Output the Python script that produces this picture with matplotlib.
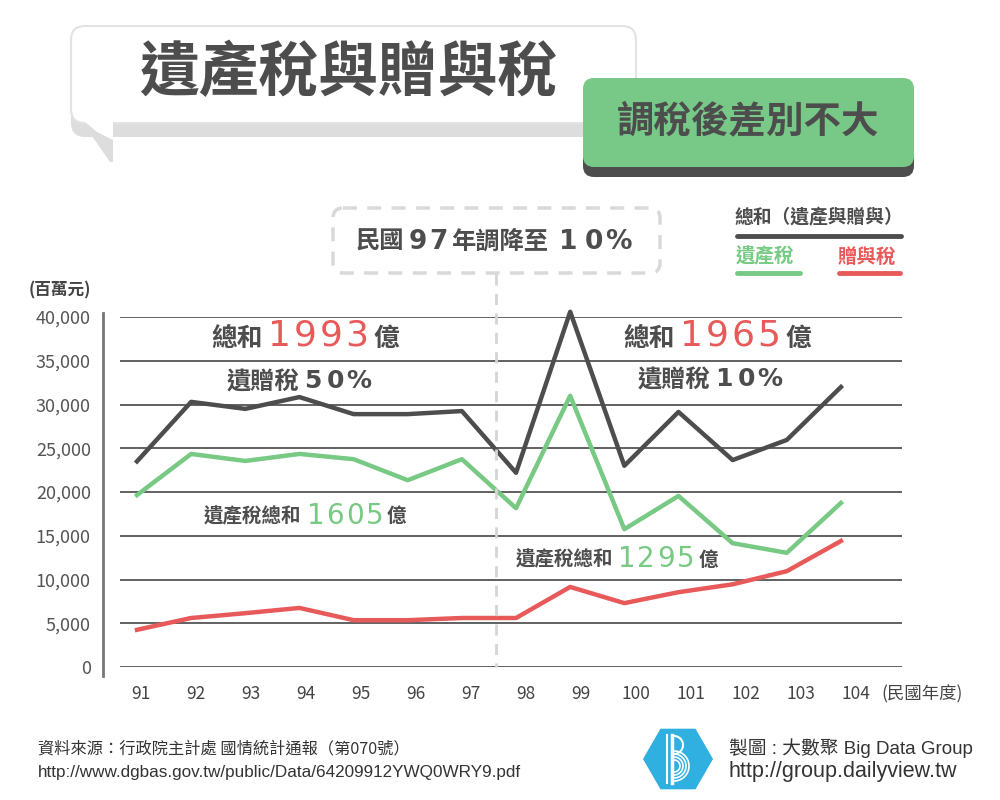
import numpy as np
import matplotlib
matplotlib.use("Agg")
import matplotlib.pyplot as plt
from matplotlib.patches import FancyBboxPatch, Polygon, RegularPolygon
from matplotlib.ticker import FuncFormatter

plt.rcParams['font.family'] = ['Noto Sans CJK TC', 'DejaVu Sans']

# 資料 (百萬元)
years = ["91", "92", "93", "94", "95", "96", "97", "98", "99", "100", "101", "102", "103", "104"]
total = [23500, 30300, 29500, 30850, 28900, 28900, 29250, 22200, 40600, 23000, 29150, 23650, 25950, 32000]
estate = [19650, 24350, 23550, 24350, 23750, 21350, 23750, 18150, 31000, 15750, 19550, 14150, 13050, 18750]
gift = [4250, 5600, 6150, 6750, 5350, 5350, 5600, 5600, 9150, 7300, 8550, 9450, 10950, 14400]

DARK = "#4d4d4d"
GREEN = "#77c984"
RED = "#e85a5a"
LIGHT = "#dcdddc"
NUM = ["DejaVu Sans"]

fig = plt.figure(figsize=(10, 8), dpi=100)

# 主圖
ax = fig.add_axes([120 / 1000, (800 - 667) / 800, (902 - 120) / 1000, 350 / 800])
x = np.arange(len(years))
ax.plot(x, total, color=DARK, lw=3.2, clip_on=False, zorder=3)
ax.plot(x, estate, color=GREEN, lw=3.2, clip_on=False, zorder=3)
ax.plot(x, gift, color=RED, lw=3.2, clip_on=False, zorder=3)

ax.set_xlim((120 - 137) / 54.15, (902 - 137) / 54.15)
ax.set_ylim(0, 40000)
ax.set_yticks(range(0, 40001, 5000))
ax.yaxis.set_major_formatter(FuncFormatter(lambda v, p: f"{int(v):,}"))
ax.yaxis.grid(True, color="#555555", lw=1.3)
ax.set_axisbelow(True)
ax.set_xticks(x * 1.016 + 0.07)
ax.set_xticklabels(years)
for s in ax.spines.values():
    s.set_visible(False)
ax.tick_params(axis="y", length=0, pad=21, labelsize=13, labelcolor="#555555")
ax.tick_params(axis="x", length=0, pad=13, labelsize=12.5, labelcolor="#444444")
ax.set_facecolor("none")

# 裝飾用的畫布 (像素座標)
deco = fig.add_axes([0, 0, 1, 1], zorder=5)
deco.set_xlim(0, 1000)
deco.set_ylim(800, 0)
deco.axis("off")
deco.patch.set_alpha(0)


def spaced(x0, y, s, step, size, color, weight="normal", family=NUM):
    # 一個字一個字放，模仿原圖較寬的字距
    for i, ch in enumerate(s):
        deco.text(x0 + step * (i + 0.5), y, ch, fontsize=size, fontweight=weight,
                  color=color, ha="center", va="center", family=family)


def cjk(x0, y, s, size, color=DARK, weight="bold"):
    deco.text(x0, y, s, fontsize=size, fontweight=weight, color=color,
              ha="left", va="center")


# 標題對話框
deco.add_patch(FancyBboxPatch((71, 40), 565, 97, boxstyle="round,pad=0,rounding_size=14",
                              fc=LIGHT, ec="none"))
deco.add_patch(Polygon([(71, 100), (72, 112), (83, 123), (92, 136), (103, 152), (110, 162),
                        (113, 162), (113, 120)], closed=True, fc=LIGHT, ec="none"))
deco.add_patch(FancyBboxPatch((71, 26), 565, 97, boxstyle="round,pad=0,rounding_size=14",
                              fc="white", ec="#e3e3e3", lw=1.5))
deco.add_patch(Polygon([(73, 100), (75, 112), (85, 122), (97, 132), (113, 140), (113, 110)],
                       closed=True, fc="white", ec="none"))
deco.text(348, 74, "遺產稅與贈與稅", fontsize=43, fontweight="bold", color=DARK,
          ha="center", va="center")

# 綠色標籤
deco.add_patch(FancyBboxPatch((583, 88), 331, 89, boxstyle="round,pad=0,rounding_size=11",
                              fc=DARK, ec="none"))
deco.add_patch(FancyBboxPatch((583, 78), 331, 89, boxstyle="round,pad=0,rounding_size=11",
                              fc="#78c987", ec="none"))
deco.text(748, 121, "調稅後差別不大", fontsize=27, fontweight="bold", color=DARK,
          ha="center", va="center")

# 97年說明框
deco.add_patch(FancyBboxPatch((333, 208), 327, 65, boxstyle="round,pad=0,rounding_size=10",
                              fc="none", ec="#d9d9d9", lw=2.5, ls=(0, (4, 3))))
cjk(356, 242, "民國", 17.5)
spaced(407, 242, "97", 21, 19, DARK, "bold")
cjk(451, 242, "年調降至", 17.5)
spaced(556, 242, "10%", 25, 19, DARK, "bold")
deco.plot([496, 496], [274, 667], color="#d5d5d5", lw=2, ls=(0, (4, 3)))

# 圖例
deco.text(735, 218, "總和（遺產與贈與）", fontsize=13.5, fontweight="bold", color=DARK,
          ha="left", va="center")
deco.plot([737, 901], [236, 236], color=DARK, lw=3.5, solid_capstyle="round")
deco.text(736, 257, "遺產稅", fontsize=14, fontweight="bold", color=GREEN, ha="left", va="center")
deco.plot([737, 800], [273, 273], color=GREEN, lw=3.5, solid_capstyle="round")
deco.text(838, 257, "贈與稅", fontsize=14, fontweight="bold", color=RED, ha="left", va="center")
deco.plot([839, 900], [273, 273], color=RED, lw=3.5, solid_capstyle="round")

# 軸標示
deco.plot([103, 103], [313, 676], color="#777777", lw=2)
deco.text(60, 290, "(百萬元)", fontsize=12, fontweight="bold", color="#444444",
          ha="center", va="center")
deco.text(922, 694, "(民國年度)", fontsize=12.5, color="#444444",
          ha="center", va="center")

# 註解文字 (左: 民國91~97年, 右: 民國98~104年)
cjk(211, 338, "總和", 18.5)
spaced(267, 336, "1993", 25.5, 26, RED)
cjk(373, 338, "億", 18.5)
cjk(227, 382, "遺贈稅", 17.5)
spaced(301, 381, "50%", 23, 18, DARK, "bold")
cjk(204, 517, "遺產稅總和", 14)
spaced(306, 516, "1605", 19.5, 20, GREEN)
cjk(387, 517, "億", 14)

cjk(623, 338, "總和", 18.5)
spaced(679, 336, "1965", 25.5, 26, RED)
cjk(785, 338, "億", 18.5)
cjk(638, 380, "遺贈稅", 17.5)
spaced(712, 379, "10%", 23, 18, DARK, "bold")
cjk(516, 560, "遺產稅總和", 14)
spaced(617, 559, "1295", 19.5, 20, GREEN)
cjk(699, 560, "億", 14)

# 資料來源
deco.text(38, 749, "資料來源：行政院主計處 國情統計通報（第070號）", fontsize=11.7, color="#333333",
          ha="left", va="center")
deco.text(38, 773, "http://www.dgbas.gov.tw/public/Data/64209912YWQ0WRY9.pdf", fontsize=12.3,
          color="#333333", ha="left", va="center", family=["Liberation Sans", "DejaVu Sans"])

# 標誌
deco.add_patch(RegularPolygon((678, 759), 6, radius=35, orientation=np.pi / 6,
                              fc="#2fb0e0", ec="none"))
deco.plot([667, 667], [735, 783], color="white", lw=1.5)
deco.plot([672, 672], [735, 783], color="white", lw=2.5)
theta = np.linspace(-np.pi / 2, np.pi / 2, 40)
for r in [6, 9, 12, 15]:
    deco.plot(674 + r * np.cos(theta), 766 + r * np.sin(theta), color="white", lw=1.2)
deco.plot(674 + 9 * np.cos(theta), 745 + 9 * np.sin(theta), color="white", lw=1.5)

deco.text(729, 748, "製圖 : 大數聚 Big Data Group", fontsize=13.5, color="#333333",
          ha="left", va="center", family=["Liberation Sans", "Noto Sans CJK TC"])
deco.text(729, 771, "http://group.dailyview.tw", fontsize=15.5, color="#333333",
          ha="left", va="center", family=["Liberation Sans", "DejaVu Sans"])

fig.savefig("out.png", dpi=100, facecolor="white")
